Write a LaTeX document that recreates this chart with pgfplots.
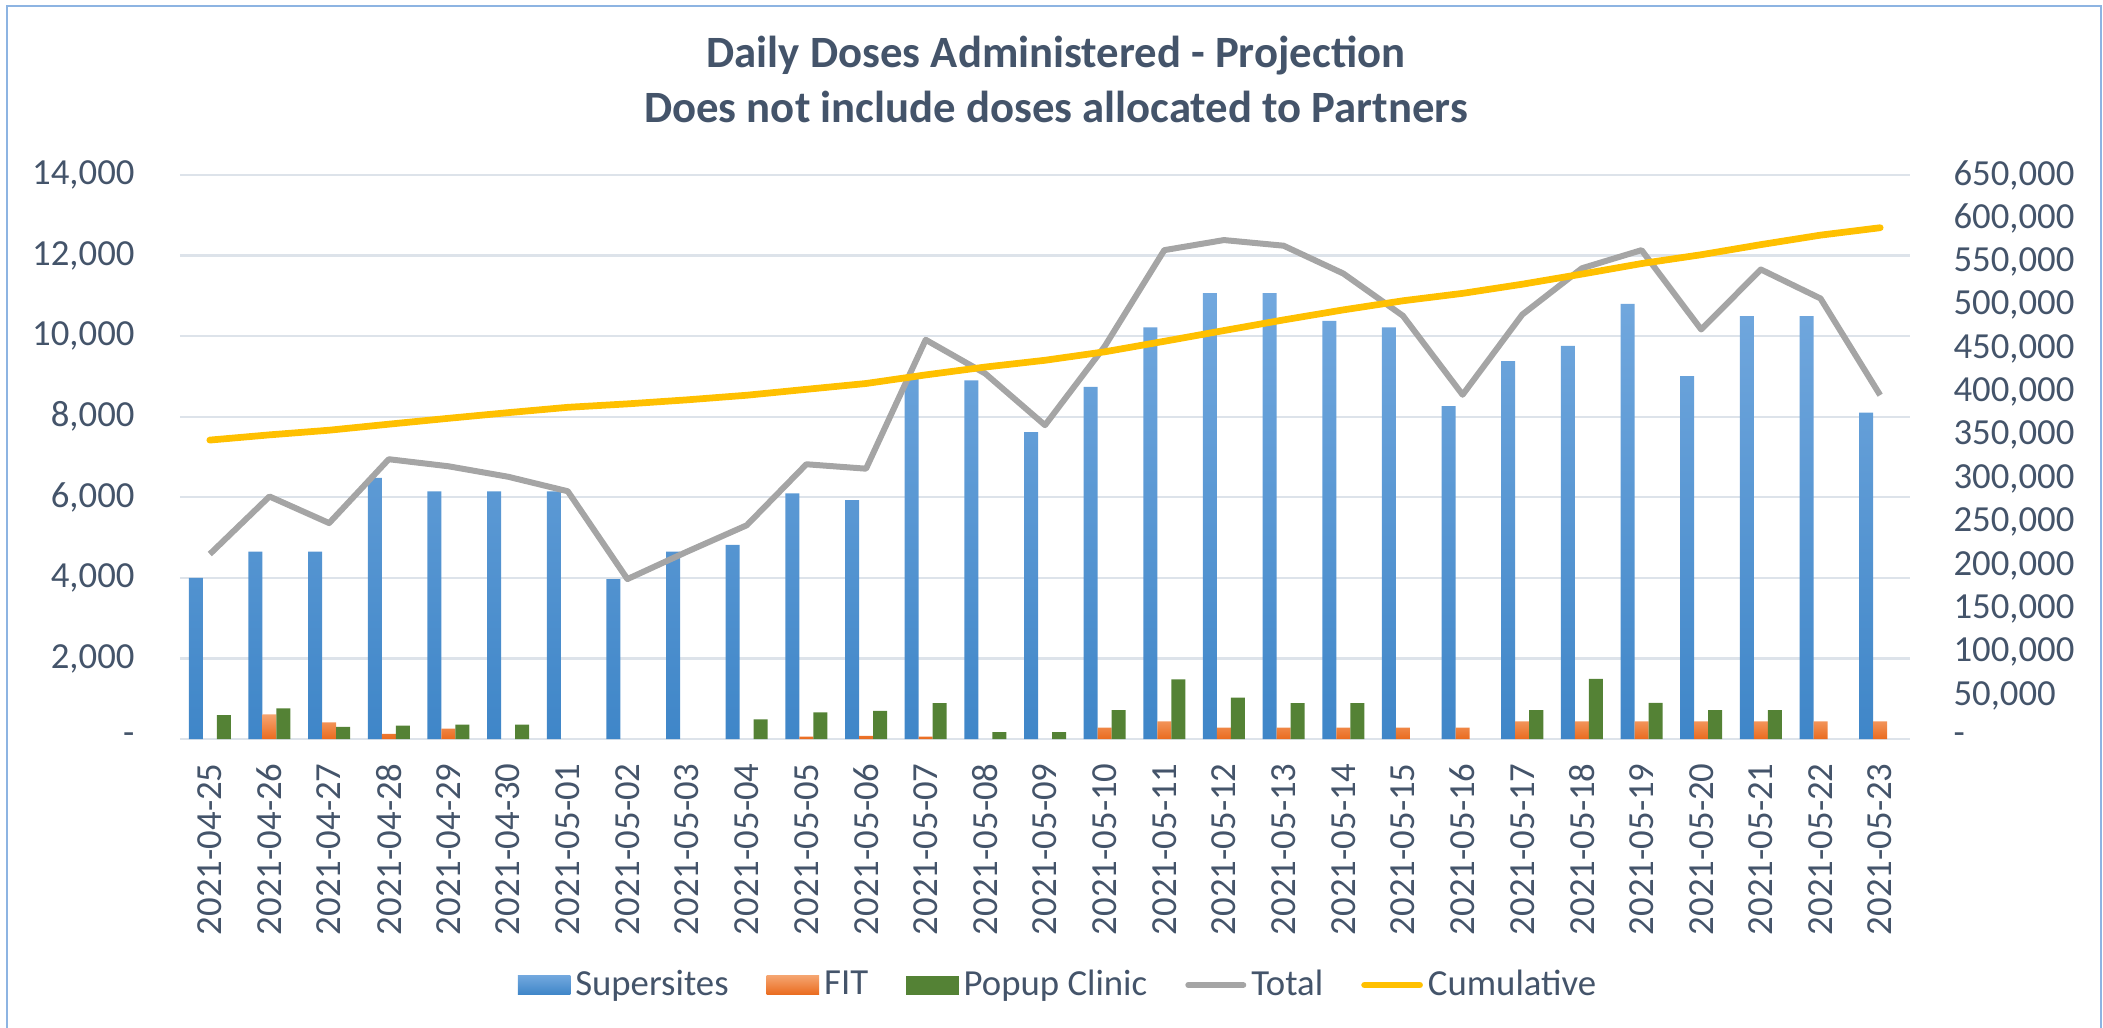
\documentclass[border=0pt]{standalone}
\usepackage{fontspec}
\setmainfont{Carlito}
\usepackage{pgfplots}
\usepackage{pgfplotstable}
\pgfplotsset{compat=1.18}

\definecolor{txt}{HTML}{44546A}
\definecolor{gridc}{HTML}{DDE3EA}
\definecolor{frame}{HTML}{8DB4E2}
\definecolor{bluetop}{HTML}{72A8DE}
\definecolor{bluebot}{HTML}{3F86C8}
\definecolor{orgtop}{HTML}{F5A470}
\definecolor{orgbot}{HTML}{EA6B1F}
\definecolor{grn}{HTML}{548235}
\definecolor{gry}{HTML}{A5A5A5}
\definecolor{ylw}{HTML}{FFC000}

\pgfplotsset{
  barlegend/.style={legend image code/.code={\fill[##1] (0pt,-3.8pt) rectangle (21pt,3.8pt);}},
  linelegend/.style={legend image code/.code={\draw[##1,line cap=round] (0pt,0pt) -- (22pt,0pt);}},
}

% daily doses per channel, total, and running total
\pgfplotstableread{
x super fit popup total cum
0 4000 nan 590 4590 344500
1 4650 610 760 6020 350520
2 4650 410 300 5360 355880
3 6480 130 335 6945 362825
4 6150 260 360 6770 369595
5 6150 nan 360 6510 376105
6 6150 nan nan 6150 382255
7 3970 nan nan 3970 386225
8 4650 nan nan 4650 390875
9 4820 nan 485 5305 396180
10 6100 60 660 6820 403000
11 5930 80 700 6710 409710
12 8960 60 890 9910 419620
13 8900 nan 170 9070 428690
14 7620 nan 170 7790 436480
15 8740 285 720 9745 446225
16 10220 435 1480 12135 458360
17 11070 285 1030 12385 470745
18 11070 285 890 12245 482990
19 10380 285 890 11555 494545
20 10220 285 nan 10505 505050
21 8260 285 nan 8545 513595
22 9380 435 720 10535 524130
23 9760 435 1490 11685 535815
24 10800 435 900 12135 547950
25 9010 435 720 10165 558115
26 10500 435 720 11655 569770
27 10500 435 nan 10935 580705
28 8100 435 nan 8535 589240
}\doses

\newcommand\tickfont{\fontsize{14.7}{17.6}\selectfont}

\begin{document}
\begin{tikzpicture}
\useasboundingbox (0,0) rectangle (841.2pt,410.8pt);
\draw[frame, line width=0.9pt] (2.8pt,-5pt) -- (2.8pt,408.4pt) -- (840.4pt,408.4pt) -- (840.4pt,-5pt);

\node[anchor=base, text=txt, font=\fontsize{17.9}{21}\selectfont\bfseries] at (422.4pt,383.6pt) {Daily Doses Administered - Projection};
\node[anchor=base, text=txt, font=\fontsize{17.9}{21}\selectfont\bfseries] at (422.4pt,362pt) {Does not include doses allocated to Partners};

\begin{axis}[
  at={(72pt,115.2pt)}, anchor=south west,
  scale only axis, width=692pt, height=225.6pt,
  xmin=-0.5, xmax=28.5, ymin=0, ymax=14000,
  axis line style={draw=none},
  major tick length=0pt,
  scaled y ticks=false,
  ymajorgrids, major grid style={draw=gridc, line width=0.9pt},
  ytick={0,2000,...,14000},
  yticklabels={{-\hspace{6.6pt}},{2,000},{4,000},{6,000},{8,000},{10,000},{12,000},{14,000}},
  yticklabel style={font=\tickfont, text=txt, anchor=east, inner sep=0pt},
  yticklabel shift=18pt,
  xtick={0,...,28},
  xticklabels={2021-04-25,2021-04-26,2021-04-27,2021-04-28,2021-04-29,2021-04-30,2021-05-01,2021-05-02,2021-05-03,2021-05-04,2021-05-05,2021-05-06,2021-05-07,2021-05-08,2021-05-09,2021-05-10,2021-05-11,2021-05-12,2021-05-13,2021-05-14,2021-05-15,2021-05-16,2021-05-17,2021-05-18,2021-05-19,2021-05-20,2021-05-21,2021-05-22,2021-05-23},
  xticklabel style={font=\tickfont, text=txt, rotate=90, anchor=east, inner sep=0pt},
  xticklabel shift=9.6pt,
]
\addplot[ybar, bar width=5.6pt, bar shift=-5.6pt, draw=none, top color=bluetop, bottom color=bluebot] table[x=x, y=super] {\doses};
\addplot[ybar, bar width=5.6pt, bar shift=0pt, draw=none, top color=orgtop, bottom color=orgbot] table[x=x, y=fit] {\doses};
\addplot[ybar, bar width=5.6pt, bar shift=5.6pt, draw=none, fill=grn] table[x=x, y=popup] {\doses};
\addplot[sharp plot, no marks, gry, line width=2.4pt, line join=round] table[x=x, y=total] {\doses};
\end{axis}

\begin{axis}[
  at={(72pt,115.2pt)}, anchor=south west,
  scale only axis, width=692pt, height=225.6pt,
  xmin=-0.5, xmax=28.5, ymin=0, ymax=650000,
  axis x line=none, axis y line*=right,
  y axis line style={draw=none},
  major tick length=0pt,
  scaled y ticks=false,
  ytick={0,50000,...,650000},
  yticklabels={-,{50,000},{100,000},{150,000},{200,000},{250,000},{300,000},{350,000},{400,000},{450,000},{500,000},{550,000},{600,000},{650,000}},
  yticklabel style={font=\tickfont, text=txt, anchor=west, inner sep=0pt},
  yticklabel shift=17.2pt,
  legend columns=5,
  legend style={draw=none, fill=none, at={(350.8pt,-98.4pt)}, anchor=center,
    font=\tickfont, text=txt, inner sep=0pt, nodes={inner sep=0pt},
    /tikz/every odd column/.append style={column sep=2pt},
    /tikz/every even column/.append style={column sep=15.2pt}},
  legend cell align=left,
]
\addlegendimage{barlegend, draw=none, top color=bluetop, bottom color=bluebot}
\addlegendentry{Supersites}
\addlegendimage{barlegend, draw=none, top color=orgtop, bottom color=orgbot}
\addlegendentry{FIT}
\addlegendimage{barlegend, draw=none, fill=grn}
\addlegendentry{Popup Clinic}
\addlegendimage{linelegend, gry, line width=2.4pt}
\addlegendentry{Total}
\addplot[linelegend, sharp plot, no marks, ylw, line width=2.7pt, line join=round, line cap=round] table[x=x, y=cum] {\doses};
\addlegendentry{Cumulative}
\end{axis}
\end{tikzpicture}
\end{document}
